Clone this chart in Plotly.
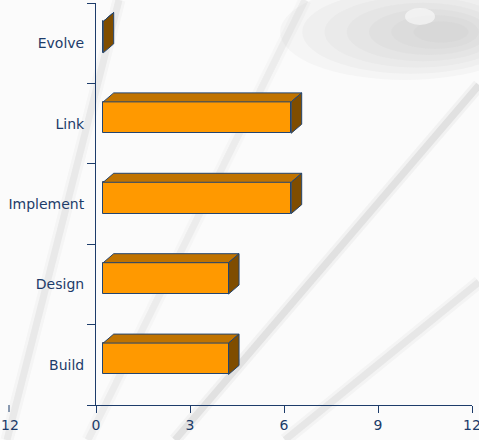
import plotly.graph_objects as go

# --- data -------------------------------------------------------------
categories = ["Build", "Design", "Implement", "Link", "Evolve"]
values = [4, 4, 6, 6, 0]
x_ticks = [0, 3, 6, 9, 12]

# --- styling ----------------------------------------------------------
NAVY = "#1d3c6a"
EDGE = "#24456f"
FRONT = "#ff9900"
TOP = "#c07300"
SIDE = "#7f4d00"
FONT = dict(family="DejaVu Sans", size=14, color=NAVY)

W, H = 479, 440
ML, MR, MT, MB = 96, 7, 3, 35
PW, PH = W - ML - MR, H - MT - MB

# pseudo-3D geometry (in axis units)
BASE = 0.23          # front face starts slightly right of the axis
FACE_LO, FACE_HI = -0.12, 0.27   # front face extent around the category position
DEPTH_X, DEPTH_Y = 0.335, 0.112  # receding offset of the top / side faces

fig = go.Figure()

ypos = list(range(len(categories)))

# front faces
fig.add_trace(go.Bar(
    orientation="h",
    y=[p + (FACE_LO + FACE_HI) / 2 for p in ypos],
    x=values,
    base=BASE,
    width=FACE_HI - FACE_LO,
    marker=dict(color=FRONT, line=dict(color=EDGE, width=1)),
    hoverinfo="skip",
    showlegend=False,
))

# top and side faces
for p, v in zip(ypos, values):
    x0, x1 = BASE, BASE + v
    yb, yt = p + FACE_LO, p + FACE_HI
    fig.add_trace(go.Scatter(
        x=[x0, x1, x1 + DEPTH_X, x0 + DEPTH_X, x0],
        y=[yt, yt, yt + DEPTH_Y, yt + DEPTH_Y, yt],
        mode="lines", fill="toself", fillcolor=TOP,
        line=dict(color=EDGE, width=1),
        hoverinfo="skip", showlegend=False,
    ))
    fig.add_trace(go.Scatter(
        x=[x1, x1, x1 + DEPTH_X, x1 + DEPTH_X, x1],
        y=[yb, yt, yt + DEPTH_Y, yb + DEPTH_Y, yb],
        mode="lines", fill="toself", fillcolor=SIDE,
        line=dict(color=EDGE, width=1),
        hoverinfo="skip", showlegend=False,
    ))


# --- faint textured backdrop -------------------------------------------
def pp(x, y):
    """pixel position -> paper coordinates"""
    return (x - ML) / PW, (H - MB - y) / PH


shapes = []

# soft grey blotch in the upper right (stacked translucent ellipses)
for k in range(7):
    f = 1 - k * 0.13
    cx, cy = 405 + k * 6, 32
    rx, ry = 125 * f, 48 * f
    a, b = pp(cx - rx, cy + ry), pp(cx + rx, cy - ry)
    shapes.append(dict(type="circle", xref="paper", yref="paper",
                       x0=a[0], y0=a[1], x1=b[0], y1=b[1],
                       fillcolor="rgba(170,170,170,0.07)",
                       line=dict(width=0), layer="below"))
a, b = pp(405, 25), pp(435, 8)
shapes.append(dict(type="circle", xref="paper", yref="paper",
                   x0=a[0], y0=a[1], x1=b[0], y1=b[1],
                   fillcolor="rgba(255,255,255,0.55)",
                   line=dict(width=0), layer="below"))

# diagonal streaks
streaks = [
    ((175, 440), (479, 85), 0.30),
    ((285, 440), (479, 282), 0.22),
    ((7, 440), (119, 0), 0.20),
    ((88, 440), (305, 0), 0.16),
]
for (xa, ya), (xb, yb), alpha in streaks:
    a, b = pp(xa, ya), pp(xb, yb)
    for w, m in ((13, 0.45), (7, 1.0)):
        shapes.append(dict(type="line", xref="paper", yref="paper",
                           x0=a[0], y0=a[1], x1=b[0], y1=b[1],
                           line=dict(color=f"rgba(185,185,185,{alpha * m:.3f})",
                                     width=w),
                           layer="below"))

# stray tick at the far left of the value axis
sx, _ = pp(9, 0)
shapes.append(dict(type="line", xref="paper", yref="paper",
                   x0=sx, x1=sx, y0=0, y1=-7 / PH,
                   line=dict(color=NAVY, width=1)))

fig.update_layout(
    width=W, height=H,
    margin=dict(l=ML, r=MR, t=MT, b=MB, autoexpand=False),
    paper_bgcolor="#fbfbfb",
    plot_bgcolor="rgba(0,0,0,0)",
    font=FONT,
    bargap=0,
    shapes=shapes,
    annotations=[dict(text="12", xref="paper", yref="paper",
                      x=pp(10, 0)[0], y=-20 / PH, xanchor="center",
                      yanchor="middle", showarrow=False, font=FONT)],
    xaxis=dict(
        range=[0, 12], tickvals=x_ticks,
        ticks="outside", ticklen=7, tickcolor=NAVY,
        ticklabeloverflow="allow",
        showline=True, linecolor=NAVY, linewidth=1,
        showgrid=False, zeroline=False, tickfont=FONT,
    ),
    yaxis=dict(
        range=[-0.5, 4.5], tickvals=ypos, ticktext=categories,
        ticks="outside", ticklen=8, tickcolor="rgba(0,0,0,0)",
        minor=dict(tickvals=[p - 0.5 for p in ypos] + [ypos[-1] + 0.5],
                   ticks="outside", ticklen=8, tickcolor=NAVY),
        showline=True, linecolor=NAVY, linewidth=1,
        showgrid=False, zeroline=False, tickfont=FONT,
    ),
)

fig.write_html("out.html")
